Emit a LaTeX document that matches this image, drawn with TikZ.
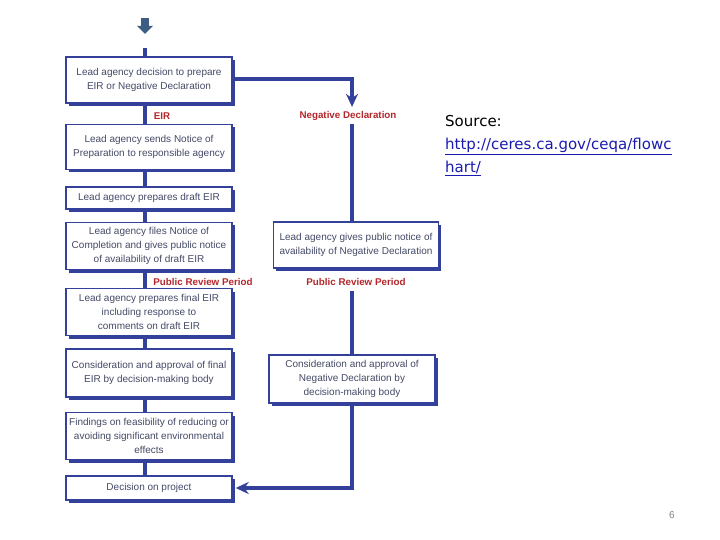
\documentclass[tikz,border=0pt]{standalone}
\usepackage{fontspec}
\setmainfont{Liberation Sans}
\newfontfamily\srcfont{DejaVu Sans}
\usetikzlibrary{arrows.meta,shadows,calc}
\definecolor{lineblue}{HTML}{34419A}
\definecolor{boxtext}{HTML}{454A66}
\definecolor{lblred}{HTML}{B3262B}
\definecolor{linkblue}{HTML}{1A1AB0}
\definecolor{iconblue}{HTML}{3E5D84}
\tikzset{
  flowbox/.style={draw=lineblue, line width=1.4pt, fill=white, text=boxtext,
    font=\fontsize{10}{14}\selectfont, align=center, inner sep=1pt,
    drop shadow={shadow xshift=2.5pt, shadow yshift=-3pt, fill=lineblue, opacity=1}},
  flow/.style={draw=lineblue, line width=3.6pt},
  lbl/.style={text=lblred, font=\fontsize{9.8}{11}\selectfont\bfseries},
  tip/.style={-{Stealth[length=13pt,width=12pt]}}
}
\begin{document}
\begin{tikzpicture}[x=1pt,y=-1pt]
\useasboundingbox (0,0) rectangle (720,540);
% top icon
\fill[iconblue] (141,18) rectangle (149,27);
\fill[iconblue] (137,26) -- (153,26) -- (145,34) -- cycle;
\coordinate (top) at (145,48);
\coordinate (rx) at (352,79);
% left column
\node[flowbox, minimum width=166pt, minimum height=46pt] (b1) at (149,80) {Lead agency decision to prepare\\EIR or Negative Declaration};
\node[flowbox, minimum width=166pt, minimum height=45pt] (b2) at (149,147) {Lead agency sends Notice of\\Preparation to responsible agency};
\node[flowbox, minimum width=166pt, minimum height=22pt] (b3) at (149,198) {Lead agency prepares draft EIR};
\node[flowbox, minimum width=166pt, minimum height=47pt] (b4) at (149,246) {Lead agency files Notice of\\Completion and gives public notice\\of availability of draft EIR};
\node[flowbox, minimum width=166pt, minimum height=47pt] (b5) at (149,312) {Lead agency prepares final EIR\\including response to\\comments on draft EIR};
\node[flowbox, minimum width=166pt, minimum height=48pt] (b6) at (149,373) {Consideration and approval of final\\EIR by decision-making body};
\node[flowbox, minimum width=166pt, minimum height=47pt] (b7) at (149,436) {Findings on feasibility of reducing or\\avoiding significant environmental\\effects};
\node[flowbox, minimum width=166pt, minimum height=24pt] (b8) at (149,488) {Decision on project};
% right column
\node[flowbox, minimum width=165pt, minimum height=46pt] (r1) at (356,245) {Lead agency gives public notice of\\availability of Negative Declaration};
\node[flowbox, minimum width=166pt, minimum height=48pt] (r2) at (352,379) {Consideration and approval of\\Negative Declaration by\\decision-making body};
% labels
\node[lbl] (eir) at (162,116) {EIR};
\node[lbl] (nd) at (348,116) {Negative Declaration};
\node[lbl] (prl) at (203,282) {Public Review Period};
\node[lbl] (prr) at (356,282) {Public Review Period};
% connectors
\draw[flow] (top) -- (b1.north -| top);
\draw[flow] (b1.south -| top) -- (b2.north -| top);
\draw[flow] (b2.south -| top) -- (b3.north -| top);
\draw[flow] (b3.south -| top) -- (b4.north -| top);
\draw[flow] (b4.south -| top) -- (b5.north -| top);
\draw[flow] (b5.south -| top) -- (b6.north -| top);
\draw[flow] (b6.south -| top) -- (b7.north -| top);
\draw[flow] (b7.south -| top) -- (b8.north -| top);
\draw[flow, tip] (b1.east |- rx) -- (rx) -- ($(nd.north -| rx)+(0,-1)$);
\draw[flow] (nd.south -| rx) -- (r1.north -| rx);
\draw[flow] ($(prr.south -| rx)+(0,2)$) -- (r2.north -| rx);
\draw[flow, tip] (r2.south -| rx) -- (rx |- b8.east) -- ($(b8.east)+(3,0)$);
% source
\node[anchor=north west, align=left, font=\srcfont\fontsize{15}{23}\selectfont, inner sep=0pt] (src) at (445,115)
  {Source:\\\textcolor{linkblue}{\underline{http://ceres.ca.gov/ceqa/flowc}}\\\textcolor{linkblue}{\underline{hart/}}};
\node[text=gray, font=\fontsize{10}{12}\selectfont] (pg) at (672,515) {6};
\end{tikzpicture}
\end{document}
